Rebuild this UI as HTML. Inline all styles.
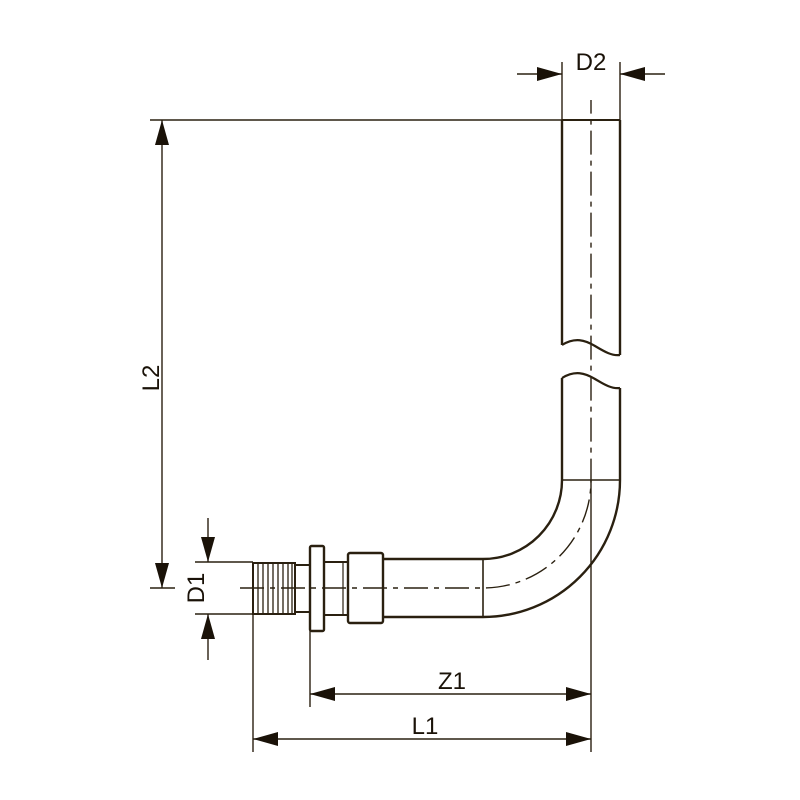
<!DOCTYPE html>
<html><head><style>body{margin:0;background:#fff}svg{display:block}</style></head><body>
<svg width="800" height="800" viewBox="0 0 800 800" xmlns="http://www.w3.org/2000/svg">
<g stroke="#2a2010" fill="none" stroke-width="1.4">
<path d="M562 120 H620" stroke-width="2"/>
<path d="M562 120 V345 M620 120 V355" stroke-width="2.4"/>
<path d="M562 345 C575 337 585 340 595 346 C605 352 612 356 620 355" stroke-width="2.2"/>
<path d="M562 378 C575 370 585 373 595 379 C605 385 612 389 620 388" stroke-width="2.2"/>
<path d="M562 378 V480 M620 388 V480" stroke-width="2.4"/>
<path d="M562 480 H620" stroke-width="1.6"/>
<path d="M562 480 A79 79 0 0 1 483 559" stroke-width="2.4"/>
<path d="M620 480 A137 137 0 0 1 483 617" stroke-width="2.4"/>
<path d="M483 559 V617" stroke-width="1.6"/>
<path d="M383 559 H483 M383 617 H483" stroke-width="2.4"/>
<rect x="348" y="553" width="35" height="70" rx="2" stroke-width="2.4"/>
<path d="M324 562 H348 M324 615 H348" stroke-width="2"/>
<path d="M343 562 V615" stroke-width="1.2"/>
<rect x="310" y="546" width="14" height="85" rx="1.5" stroke-width="2.4"/>
<path d="M295 565 H310 M295 612 H310" stroke-width="2"/>
<rect x="253" y="563" width="42" height="51" stroke-width="2"/>
<path d="M258 563 V614 M263 563 V614 M268 563 V614 M273 563 V614 M278 563 V614 M283 563 V614 M288 563 V614 M292 563 V614" stroke-width="1.3"/>
<path d="M240 588 H483 A108 108 0 0 0 591 480 V100" stroke-width="1.4" stroke-dasharray="24 6 5 6"/>
<path d="M562 62 V120 M620 62 V120 M517 74 H562 M620 74 H665"/>
<path d="M150 120 H562 M162 120 V588 M150 588 H175"/>
<path d="M195 562 H253 M195 614 H253 M208 518 V562 M208 614 V660"/>
<path d="M253 614 V752 M310 631 V707 M591 480 V752 M310 694 H591 M253 739 H591"/>
</g>
<g fill="#1a1208">
<polygon points="562,74 537,67 537,81"/>
<polygon points="620,74 645,67 645,81"/>
<polygon points="162,120 155,145 169,145"/>
<polygon points="162,588 155,563 169,563"/>
<polygon points="208,562 201,537 215,537"/>
<polygon points="208,614 201,639 215,639"/>
<polygon points="310,694 335,687 335,701"/>
<polygon points="591,694 566,687 566,701"/>
<polygon points="253,739 278,732 278,746"/>
<polygon points="591,739 566,732 566,746"/>
</g>
<g font-family="Liberation Sans, sans-serif" font-size="24" fill="#1a1208" text-anchor="middle">
<text x="591" y="70">D2</text>
<text x="452" y="689">Z1</text>
<text x="425" y="734">L1</text>
<text transform="translate(159,378) rotate(-90)">L2</text>
<text transform="translate(204,588) rotate(-90)">D1</text>
</g>
</svg>
</body></html>
